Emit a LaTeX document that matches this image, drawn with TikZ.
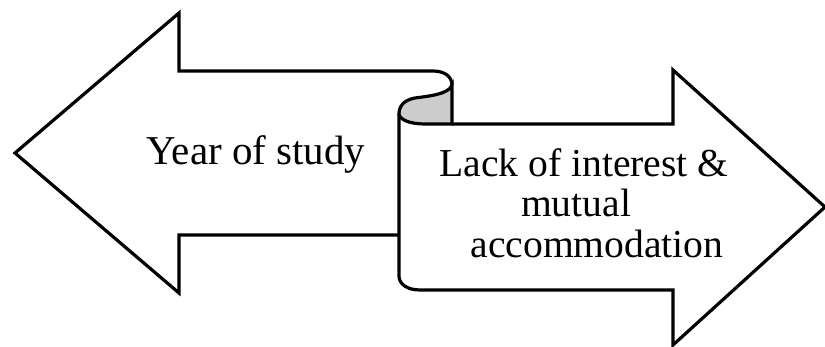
\documentclass[tikz,border=0pt]{standalone}
\usepackage{fontspec}
\setmainfont{Liberation Serif}

\begin{document}
\begin{tikzpicture}[x=0.5pt, y=-0.5pt, line width=1.6pt, line join=miter,
                    main text/.style={font=\fontsize{20.5}{21}\selectfont, anchor=base, inner sep=0pt},
                    scroll text/.style={font=\fontsize{19.8}{21}\selectfont, anchor=base, inner sep=0pt},
                    curl/.style={fill=gray!40}]
  \useasboundingbox (0,0) rectangle (825,347);

  % inside of the curl
  \filldraw[curl] (399,114) .. controls (400,120) and (410,124) .. (425,124) -- (452,124) -- (452,85)
    .. controls (449,94) and (430,96) .. (415,98) .. controls (404,100) and (399,106) .. (399,114) -- cycle;

  % left arrow
  \draw (399,235) -- (179,235) -- (179,293) -- (15,153) -- (179,13) -- (179,71) -- (433,71)
    .. controls (445,71) and (452,77) .. (452,85);

  % right arrow (scroll)
  \draw (399,114) -- (399,276) .. controls (399,284) and (407,290) .. (420,290) -- (673,290)
    -- (673,345) -- (825,207) -- (673,70) -- (673,124) -- (452,124);

  \node[main text] (year) at (256,165) {Year of study};
  \node[scroll text] (lack) at (584,177) {Lack of interest \&};
  \node[scroll text] (mutual) at (576,217) {mutual};
  \node[scroll text] (accom) at (597,258) {accommodation};
\end{tikzpicture}
\end{document}
